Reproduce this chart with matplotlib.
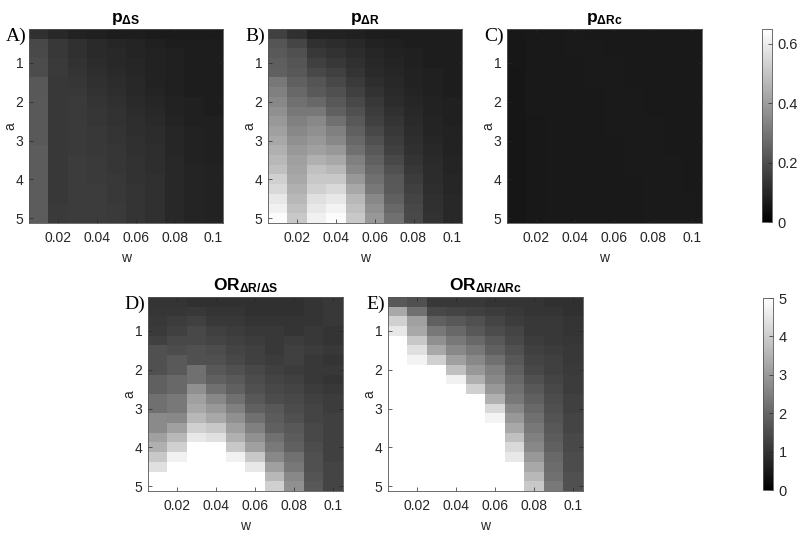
import matplotlib
matplotlib.use("Agg")
import matplotlib.pyplot as plt

plt.rcParams['font.family'] = ['Liberation Sans', 'DejaVu Sans']
plt.rcParams['mathtext.fontset'] = 'custom'
plt.rcParams['mathtext.rm'] = 'Liberation Sans'
plt.rcParams['mathtext.bf'] = 'Liberation Sans:bold'
plt.rcParams['mathtext.it'] = 'Liberation Sans:italic'

# --- grid ---
w_vals = [0.01, 0.02, 0.03, 0.04, 0.05, 0.06, 0.07, 0.08, 0.09, 0.10]
a_vals = [0.25, 0.5, 0.75, 1.0, 1.25, 1.5, 1.75, 2.0, 2.25, 2.5,
          2.75, 3.0, 3.25, 3.5, 3.75, 4.0, 4.25, 4.5, 4.75, 5.0]
w_ticks = [0.02, 0.04, 0.06, 0.08, 0.1]
w_ticklabels = ['0.02', '0.04', '0.06', '0.08', '0.1']
a_ticks = [1, 2, 3, 4, 5]

# --- A) p_dS (rows = a, cols = w) ---
p_dS = [
    [0.122, 0.102, 0.087, 0.082, 0.076, 0.076, 0.071, 0.071, 0.071, 0.071],
    [0.184, 0.143, 0.122, 0.107, 0.097, 0.092, 0.082, 0.076, 0.076, 0.076],
    [0.189, 0.143, 0.122, 0.107, 0.102, 0.092, 0.087, 0.082, 0.076, 0.076],
    [0.194, 0.148, 0.127, 0.112, 0.102, 0.097, 0.087, 0.082, 0.076, 0.076],
    [0.194, 0.148, 0.133, 0.117, 0.107, 0.097, 0.087, 0.082, 0.076, 0.076],
    [0.224, 0.143, 0.138, 0.122, 0.112, 0.102, 0.087, 0.082, 0.076, 0.076],
    [0.224, 0.143, 0.143, 0.127, 0.117, 0.102, 0.092, 0.082, 0.076, 0.076],
    [0.229, 0.143, 0.148, 0.133, 0.122, 0.107, 0.097, 0.087, 0.082, 0.076],
    [0.229, 0.143, 0.148, 0.138, 0.127, 0.112, 0.102, 0.087, 0.082, 0.076],
    [0.229, 0.143, 0.148, 0.138, 0.127, 0.117, 0.107, 0.092, 0.082, 0.082],
    [0.229, 0.143, 0.148, 0.143, 0.133, 0.117, 0.112, 0.097, 0.087, 0.082],
    [0.229, 0.143, 0.148, 0.143, 0.133, 0.122, 0.112, 0.097, 0.087, 0.082],
    [0.235, 0.143, 0.148, 0.143, 0.138, 0.122, 0.117, 0.097, 0.087, 0.082],
    [0.235, 0.143, 0.153, 0.148, 0.138, 0.127, 0.117, 0.102, 0.087, 0.082],
    [0.235, 0.143, 0.153, 0.148, 0.138, 0.127, 0.117, 0.102, 0.092, 0.087],
    [0.235, 0.143, 0.153, 0.148, 0.143, 0.127, 0.122, 0.102, 0.092, 0.087],
    [0.235, 0.143, 0.153, 0.153, 0.143, 0.133, 0.122, 0.102, 0.092, 0.087],
    [0.235, 0.143, 0.153, 0.153, 0.143, 0.133, 0.122, 0.102, 0.092, 0.087],
    [0.235, 0.148, 0.153, 0.153, 0.148, 0.133, 0.122, 0.102, 0.092, 0.087],
    [0.235, 0.148, 0.153, 0.153, 0.148, 0.133, 0.122, 0.102, 0.092, 0.087],
]

# --- B) p_dR ---
p_dR = [
    [0.163, 0.122, 0.087, 0.087, 0.082, 0.076, 0.076, 0.076, 0.076, 0.076],
    [0.217, 0.176, 0.122, 0.112, 0.102, 0.087, 0.082, 0.076, 0.076, 0.076],
    [0.229, 0.204, 0.143, 0.127, 0.112, 0.097, 0.087, 0.082, 0.076, 0.076],
    [0.240, 0.217, 0.163, 0.143, 0.122, 0.102, 0.092, 0.082, 0.076, 0.076],
    [0.245, 0.224, 0.184, 0.163, 0.133, 0.107, 0.097, 0.087, 0.082, 0.076],
    [0.306, 0.245, 0.217, 0.184, 0.148, 0.117, 0.102, 0.087, 0.082, 0.076],
    [0.326, 0.265, 0.229, 0.204, 0.163, 0.127, 0.107, 0.092, 0.082, 0.076],
    [0.347, 0.285, 0.265, 0.224, 0.184, 0.143, 0.112, 0.097, 0.087, 0.082],
    [0.367, 0.306, 0.306, 0.245, 0.204, 0.153, 0.122, 0.102, 0.087, 0.082],
    [0.388, 0.326, 0.347, 0.285, 0.224, 0.163, 0.133, 0.107, 0.092, 0.082],
    [0.408, 0.347, 0.367, 0.326, 0.245, 0.184, 0.143, 0.112, 0.092, 0.087],
    [0.428, 0.367, 0.388, 0.347, 0.265, 0.204, 0.153, 0.117, 0.097, 0.087],
    [0.449, 0.388, 0.408, 0.388, 0.285, 0.224, 0.163, 0.122, 0.102, 0.087],
    [0.469, 0.408, 0.449, 0.428, 0.326, 0.245, 0.184, 0.133, 0.107, 0.092],
    [0.489, 0.418, 0.489, 0.469, 0.347, 0.265, 0.204, 0.143, 0.112, 0.092],
    [0.530, 0.428, 0.510, 0.510, 0.388, 0.285, 0.224, 0.153, 0.112, 0.097],
    [0.551, 0.449, 0.530, 0.551, 0.428, 0.306, 0.229, 0.163, 0.117, 0.097],
    [0.591, 0.469, 0.571, 0.591, 0.469, 0.347, 0.245, 0.173, 0.122, 0.102],
    [0.612, 0.489, 0.591, 0.622, 0.489, 0.367, 0.265, 0.184, 0.122, 0.102],
    [0.642, 0.510, 0.612, 0.642, 0.510, 0.388, 0.285, 0.189, 0.127, 0.102],
]

# --- C) p_dRc ---
p_dRc = [
    [0.062, 0.066, 0.066, 0.067, 0.066, 0.066, 0.065, 0.065, 0.065, 0.065],
    [0.060, 0.065, 0.066, 0.067, 0.067, 0.066, 0.066, 0.065, 0.065, 0.065],
    [0.059, 0.065, 0.066, 0.067, 0.067, 0.066, 0.066, 0.066, 0.065, 0.065],
    [0.059, 0.064, 0.066, 0.066, 0.067, 0.067, 0.066, 0.066, 0.065, 0.065],
    [0.058, 0.064, 0.066, 0.066, 0.067, 0.067, 0.066, 0.066, 0.066, 0.065],
    [0.058, 0.064, 0.065, 0.066, 0.067, 0.067, 0.066, 0.066, 0.066, 0.065],
    [0.058, 0.064, 0.065, 0.066, 0.066, 0.067, 0.067, 0.066, 0.066, 0.066],
    [0.058, 0.064, 0.065, 0.066, 0.066, 0.067, 0.067, 0.066, 0.066, 0.066],
    [0.058, 0.064, 0.065, 0.066, 0.066, 0.067, 0.067, 0.066, 0.066, 0.066],
    [0.058, 0.063, 0.065, 0.066, 0.066, 0.067, 0.067, 0.067, 0.066, 0.066],
    [0.058, 0.063, 0.065, 0.066, 0.066, 0.067, 0.067, 0.067, 0.066, 0.066],
    [0.058, 0.063, 0.065, 0.066, 0.066, 0.066, 0.067, 0.067, 0.066, 0.066],
    [0.058, 0.063, 0.065, 0.066, 0.066, 0.066, 0.067, 0.067, 0.066, 0.066],
    [0.058, 0.063, 0.065, 0.066, 0.066, 0.066, 0.067, 0.067, 0.067, 0.066],
    [0.058, 0.063, 0.065, 0.066, 0.066, 0.066, 0.067, 0.067, 0.067, 0.066],
    [0.058, 0.063, 0.065, 0.066, 0.066, 0.066, 0.066, 0.067, 0.067, 0.066],
    [0.058, 0.063, 0.065, 0.066, 0.066, 0.066, 0.066, 0.067, 0.067, 0.066],
    [0.058, 0.063, 0.065, 0.066, 0.066, 0.066, 0.066, 0.067, 0.067, 0.067],
    [0.058, 0.063, 0.065, 0.065, 0.066, 0.066, 0.066, 0.067, 0.067, 0.067],
    [0.058, 0.063, 0.065, 0.065, 0.066, 0.066, 0.066, 0.067, 0.067, 0.067],
]

# --- D) OR dR/dS ---
or_R_S = [
    [1.02, 1.02, 0.94, 0.94, 0.94, 0.94, 0.94, 0.94, 1.02, 1.10],
    [1.06, 1.06, 1.10, 1.02, 1.02, 0.94, 0.94, 0.94, 1.02, 1.10],
    [1.10, 1.18, 1.25, 1.10, 1.10, 1.02, 1.02, 1.02, 1.02, 1.10],
    [1.14, 1.25, 1.41, 1.25, 1.18, 1.10, 1.10, 1.02, 1.10, 1.02],
    [1.25, 1.41, 1.41, 1.33, 1.25, 1.18, 1.10, 1.18, 1.10, 1.02],
    [1.57, 1.49, 1.57, 1.49, 1.33, 1.25, 1.10, 1.25, 1.18, 1.10],
    [1.57, 1.76, 1.57, 1.57, 1.41, 1.25, 1.18, 1.25, 1.10, 1.02],
    [1.57, 1.76, 2.20, 1.73, 1.57, 1.41, 1.25, 1.18, 1.10, 1.10],
    [1.88, 2.04, 2.20, 1.88, 1.76, 1.49, 1.33, 1.25, 1.10, 1.02],
    [1.88, 2.04, 2.82, 2.20, 1.88, 1.57, 1.41, 1.33, 1.18, 1.10],
    [2.20, 2.35, 3.14, 2.67, 2.20, 1.73, 1.49, 1.41, 1.25, 1.18],
    [2.20, 2.35, 3.29, 2.98, 2.51, 1.88, 1.73, 1.49, 1.33, 1.18],
    [2.71, 2.67, 3.61, 3.29, 2.82, 2.20, 1.80, 1.57, 1.33, 1.25],
    [2.71, 3.14, 4.08, 3.92, 3.14, 2.51, 1.88, 1.73, 1.41, 1.25],
    [3.14, 3.61, 4.55, 4.39, 3.45, 2.82, 2.20, 1.80, 1.41, 1.25],
    [3.45, 4.08, 5.40, 5.30, 3.92, 3.14, 2.39, 1.88, 1.49, 1.25],
    [3.92, 4.71, 6.00, 5.90, 4.71, 3.92, 2.67, 2.20, 1.57, 1.25],
    [4.39, 5.30, 6.60, 6.50, 5.40, 4.55, 3.14, 2.35, 1.57, 1.33],
    [5.20, 5.80, 7.10, 7.00, 6.00, 5.30, 3.61, 2.67, 1.65, 1.33],
    [5.60, 6.30, 7.50, 7.40, 6.60, 5.80, 4.08, 2.82, 1.73, 1.33],
]

# --- E) OR dR/dRc ---
or_R_Rc = [
    [1.73, 1.57, 1.10, 1.10, 1.10, 1.02, 1.02, 1.02, 0.94, 0.94],
    [3.29, 2.20, 1.41, 1.33, 1.25, 1.18, 1.10, 1.02, 1.02, 0.94],
    [4.08, 3.14, 1.88, 1.73, 1.57, 1.33, 1.18, 1.10, 1.10, 1.02],
    [4.55, 3.29, 2.35, 2.04, 1.73, 1.49, 1.33, 1.10, 1.10, 1.02],
    [5.40, 3.92, 2.82, 2.35, 2.04, 1.73, 1.41, 1.18, 1.10, 1.06],
    [5.90, 4.39, 3.29, 2.67, 2.35, 1.88, 1.57, 1.25, 1.18, 1.10],
    [6.30, 4.78, 4.08, 3.14, 2.67, 2.20, 1.73, 1.33, 1.25, 1.10],
    [6.70, 5.30, 5.20, 3.76, 2.98, 2.51, 1.88, 1.41, 1.25, 1.14],
    [7.00, 5.70, 5.60, 4.71, 3.45, 2.67, 2.04, 1.57, 1.33, 1.18],
    [7.30, 6.00, 6.00, 5.30, 4.08, 2.98, 2.20, 1.73, 1.41, 1.18],
    [7.50, 6.30, 6.30, 5.70, 5.20, 3.45, 2.35, 1.88, 1.49, 1.25],
    [7.70, 6.60, 6.60, 6.00, 5.60, 4.24, 2.67, 2.04, 1.57, 1.25],
    [7.90, 6.80, 6.90, 6.30, 6.00, 4.78, 2.98, 2.20, 1.65, 1.33],
    [8.10, 7.00, 7.10, 6.60, 6.30, 5.30, 3.29, 2.35, 1.73, 1.33],
    [8.20, 7.20, 7.30, 6.80, 6.60, 5.70, 3.76, 2.51, 1.80, 1.41],
    [8.40, 7.40, 7.50, 7.00, 6.80, 6.00, 4.24, 2.67, 1.88, 1.41],
    [8.50, 7.50, 7.60, 7.20, 7.00, 6.30, 4.55, 2.98, 2.04, 1.49],
    [8.60, 7.60, 7.70, 7.30, 7.20, 6.50, 5.20, 3.29, 2.12, 1.49],
    [8.70, 7.70, 7.80, 7.40, 7.30, 6.70, 5.50, 3.61, 2.20, 1.57],
    [8.80, 7.80, 7.90, 7.50, 7.40, 6.90, 5.80, 3.92, 2.35, 1.57],
]

W, H = 800, 534
fig = plt.figure(figsize=(W / 100, H / 100), dpi=100)


def px_axes(x0, y0, x1, y1):
    return fig.add_axes([x0 / W, 1 - y1 / H, (x1 - x0) / W, (y1 - y0) / H])


dw = (w_vals[1] - w_vals[0]) / 2
da = (a_vals[1] - a_vals[0]) / 2
extent = [w_vals[0] - dw, w_vals[-1] + dw, a_vals[-1] + da, a_vals[0] - da]

panels = [
    (p_dS, r'$\mathbf{p_{\Delta S}}$', 'A)', (29, 29, 223, 223), 0.65),
    (p_dR, r'$\mathbf{p_{\Delta R}}$', 'B)', (268, 29, 462, 223), 0.65),
    (p_dRc, r'$\mathbf{p_{\Delta Rc}}$', 'C)', (507, 29, 702, 223), 0.65),
    (or_R_S, r'$\mathbf{OR_{\Delta R/\Delta S}}$', 'D)', (148, 297, 343, 491), 5),
    (or_R_Rc, r'$\mathbf{OR_{\Delta R/\Delta Rc}}$', 'E)', (388, 297, 583, 491), 5),
]

axcol = '#262626'
ims = []
for data, title, label, box, vmax in panels:
    ax = px_axes(*box)
    im = ax.imshow(data, cmap='gray', vmin=0, vmax=vmax, extent=extent,
                   aspect='auto', interpolation='nearest')
    ims.append(im)
    ax.set_xticks(w_ticks)
    ax.set_xticklabels(w_ticklabels)
    ax.set_yticks(a_ticks)
    ax.tick_params(direction='in', length=3, width=0.5, colors=axcol,
                   labelsize=10, top=True, right=True)
    ax.tick_params(axis='x', pad=6)
    ax.tick_params(axis='y', pad=4)
    for sp in ax.spines.values():
        sp.set_color('#555555')
        sp.set_linewidth(0.6)
    ax.set_xlabel('w', fontsize=10, color=axcol, labelpad=4)
    ax.set_ylabel('a', fontsize=10, color=axcol, labelpad=-1)
    ax.set_title(title, fontsize=12.5, pad=5)
    ax.text(-0.015, 1.005, label, transform=ax.transAxes, ha='right', va='top',
            fontsize=14, family='Liberation Serif')

# colorbars
for im, box, ticks in [(ims[0], (762, 29, 772, 222), [0, 0.2, 0.4, 0.6]),
                       (ims[3], (763, 298, 773, 490), [0, 1, 2, 3, 4, 5])]:
    cax = px_axes(*box)
    cb = fig.colorbar(im, cax=cax, ticks=ticks)
    cb.ax.set_yticklabels([f'{t:g}' for t in ticks])
    cb.ax.tick_params(direction='in', length=3, width=0.5, colors=axcol,
                      labelsize=10.5, pad=4)
    cb.outline.set_edgecolor('#555555')
    cb.outline.set_linewidth(0.6)

fig.savefig('out.png', dpi=100)
